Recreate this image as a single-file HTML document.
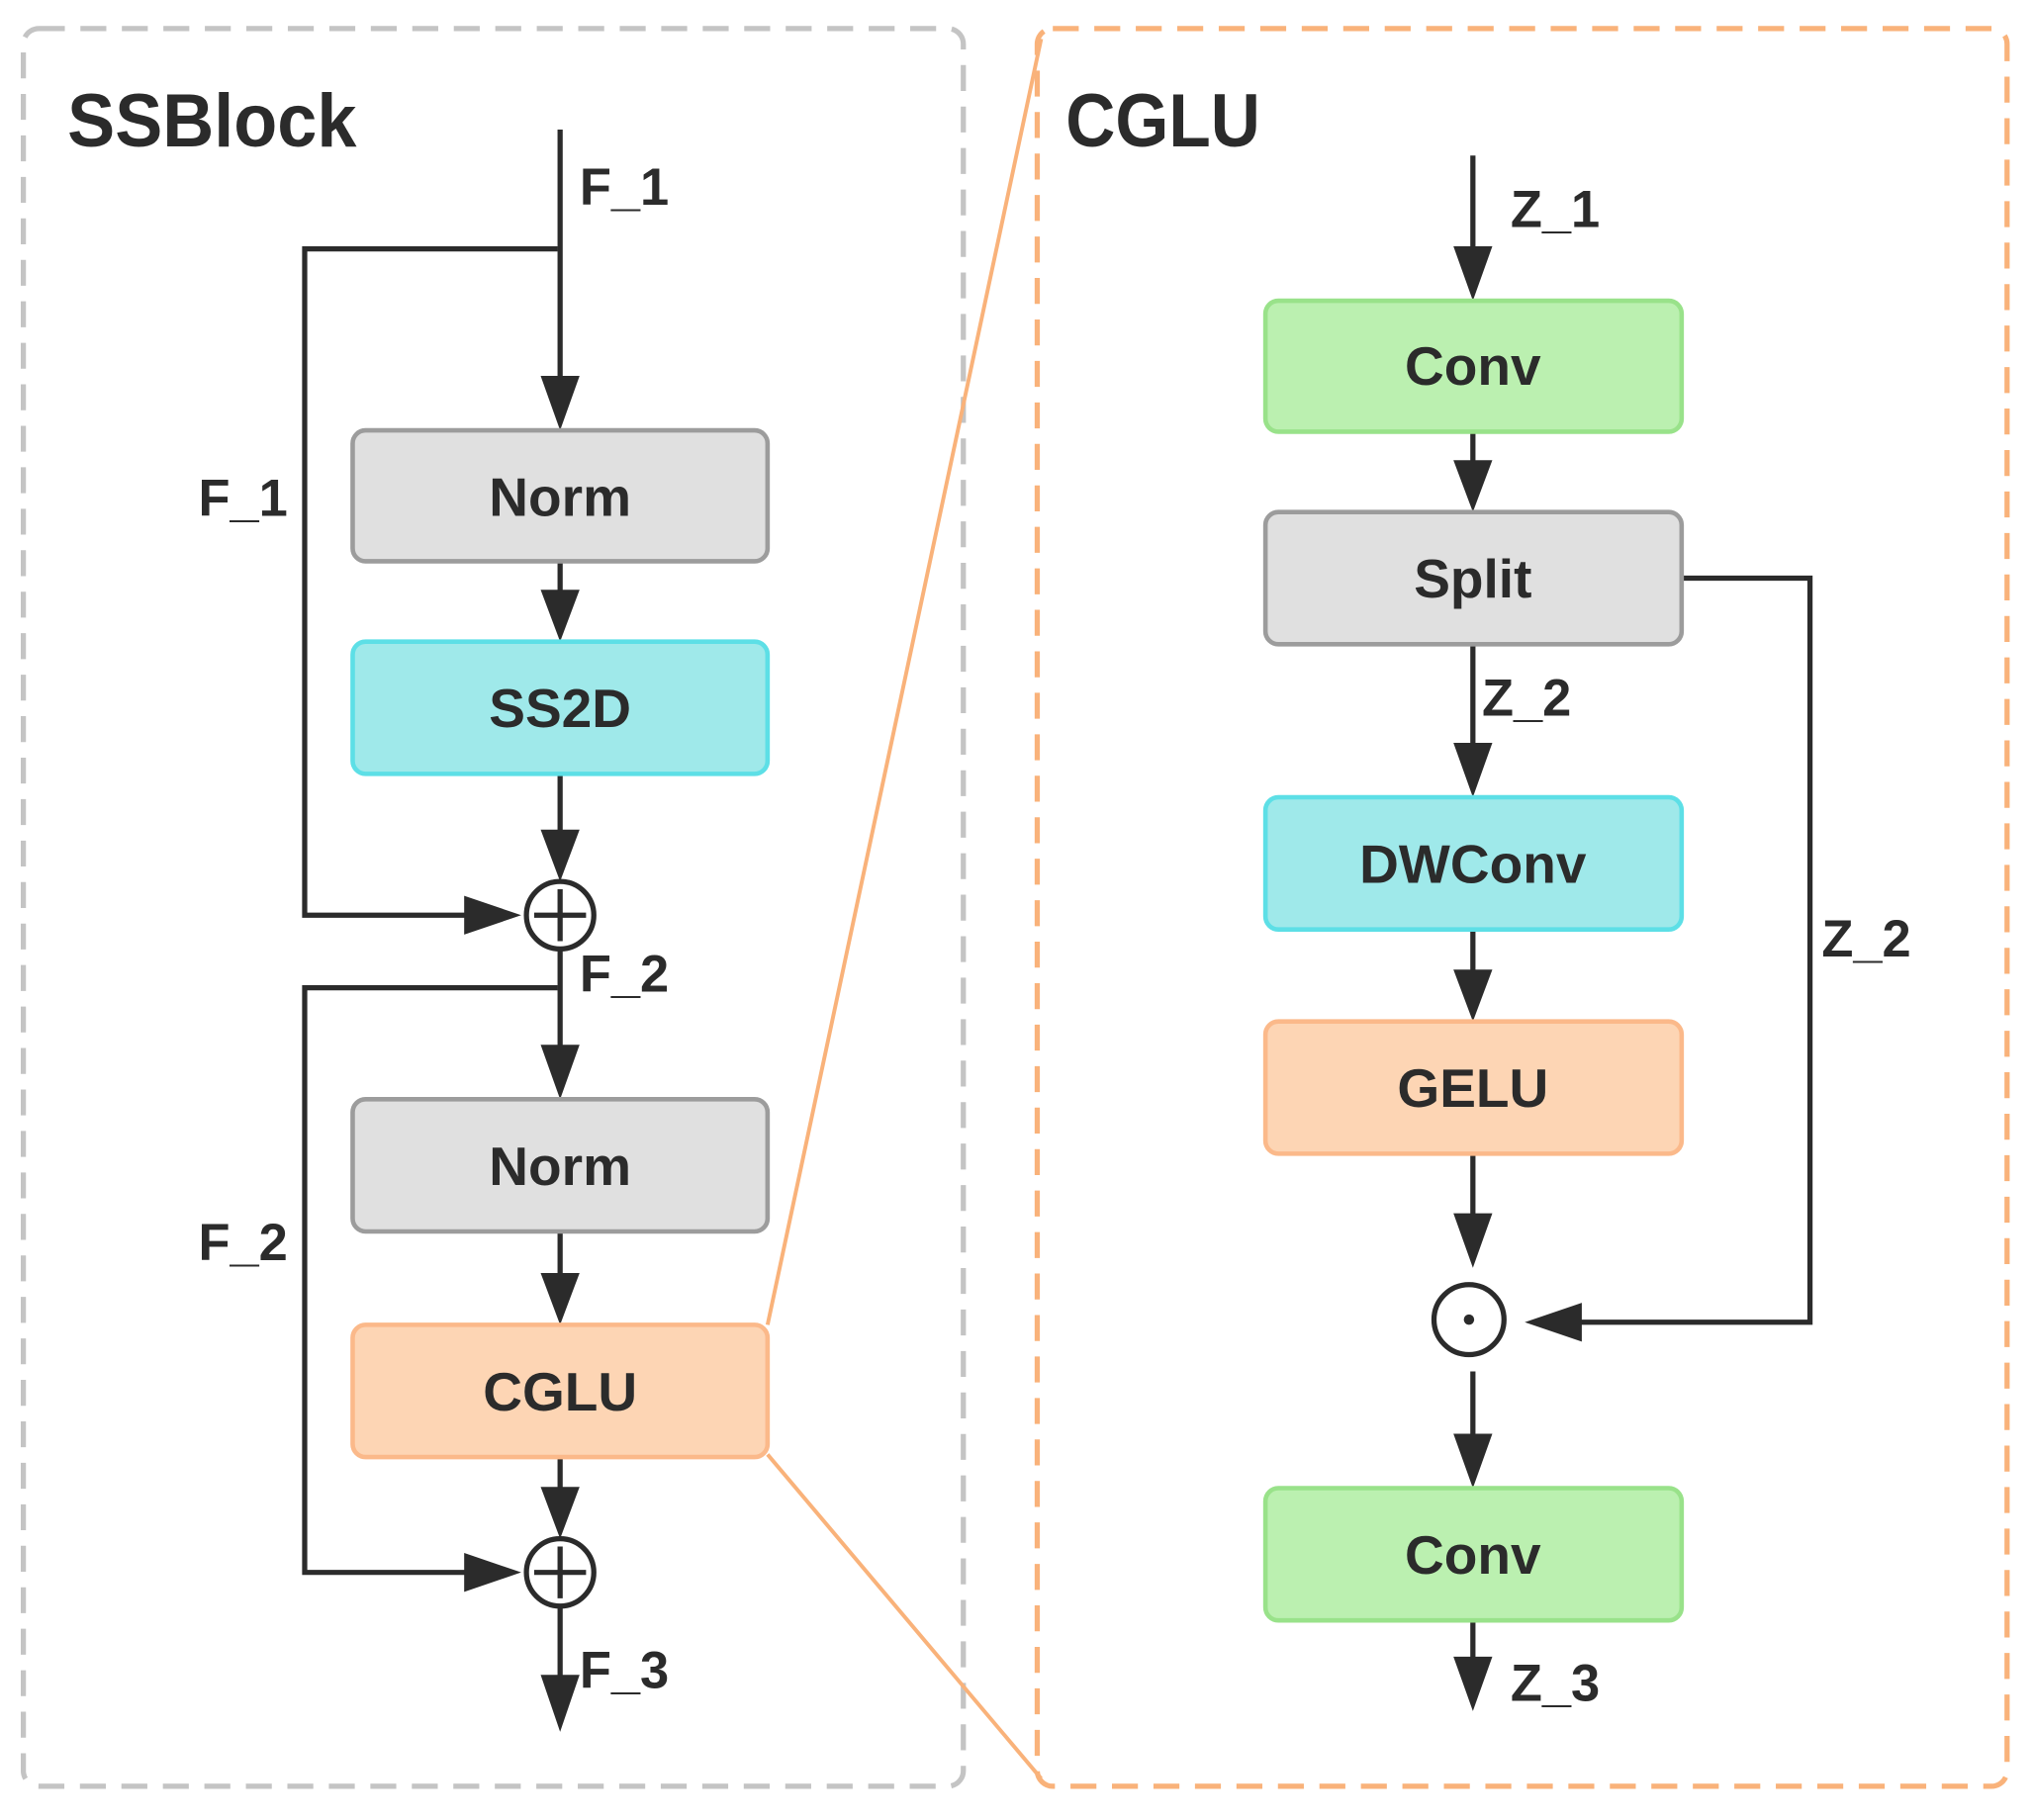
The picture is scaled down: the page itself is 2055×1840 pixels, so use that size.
<!DOCTYPE html>
<html><head><meta charset="utf-8"><style>
html,body{margin:0;padding:0;background:#fff}
svg{display:block}
text{font-family:"Liberation Sans",sans-serif;font-weight:bold;fill:#2b2b2b}
</style></head><body>
<svg width="2055" height="1840" viewBox="0 0 1568 1404" preserveAspectRatio="none" xmlns="http://www.w3.org/2000/svg">
<rect x="18" y="22" width="725" height="1356" rx="12" fill="none" stroke="#c4c4c4" stroke-width="4" stroke-dasharray="20 12"/>
<rect x="800" y="22" width="748" height="1356" rx="12" fill="none" stroke="#f9b27a" stroke-width="4" stroke-dasharray="20 12"/>
<line x1="592" y1="1022" x2="803" y2="30" stroke="#f9b27a" stroke-width="3"/>
<line x1="592" y1="1122" x2="803" y2="1372" stroke="#f9b27a" stroke-width="3"/>
<text x="52" y="113" font-size="58" textLength="223" lengthAdjust="spacingAndGlyphs">SSBlock</text>
<text x="822" y="113" font-size="58" textLength="150" lengthAdjust="spacingAndGlyphs">CGLU</text>
<g stroke="#2b2b2b" stroke-width="4" fill="none">
<path d="M432 100V300"/><path d="M430 192H235V706H370"/>
<path d="M432 433V465"/><path d="M432 597V650"/>
<path d="M432 732V815"/><path d="M430 762H235V1213H370"/>
<path d="M432 950V990"/><path d="M432 1124V1157"/><path d="M432 1239V1300"/>
<path d="M1136 120V200"/><path d="M1136 333V362"/><path d="M1136 497V582"/>
<path d="M1136 717V756"/><path d="M1136 890V945"/><path d="M1136 1058V1115"/><path d="M1136 1250V1288"/>
<path d="M1297 446H1396V1020H1210"/>
<circle cx="432" cy="706" r="26"/><path d="M412 706H452M432 686V726"/>
<circle cx="432" cy="1213" r="26"/><path d="M412 1213H452M432 1193V1233"/>
<circle cx="1133" cy="1018" r="27"/>
</g>
<circle cx="1133" cy="1018" r="4" fill="#2b2b2b"/>
<g fill="#2b2b2b">
<path d="M417 290H447L432 332Z"/><path d="M417 455H447L432 495Z"/><path d="M417 640H447L432 680Z"/>
<path d="M417 806H447L432 848Z"/><path d="M417 982H447L432 1022Z"/><path d="M417 1147H447L432 1187Z"/>
<path d="M417 1292H447L432 1336Z"/>
<path d="M358 691V721L402 706Z"/><path d="M358 1198V1228L402 1213Z"/>
<path d="M1121 190H1151L1136 232Z"/><path d="M1121 355H1151L1136 395Z"/><path d="M1121 573H1151L1136 615Z"/>
<path d="M1121 748H1151L1136 788Z"/><path d="M1121 936H1151L1136 978Z"/><path d="M1121 1106H1151L1136 1148Z"/>
<path d="M1121 1278H1151L1136 1320Z"/>
<path d="M1220 1005V1035L1176 1020Z"/>
</g>
<g stroke-width="3.5">
<rect x="272" y="332" width="320" height="101" rx="10" fill="#e0e0e0" stroke="#9c9c9c"/>
<rect x="272" y="495" width="320" height="102" rx="10" fill="#9fe9ea" stroke="#5ddfe6"/>
<rect x="272" y="848" width="320" height="102" rx="10" fill="#e0e0e0" stroke="#9c9c9c"/>
<rect x="272" y="1022" width="320" height="102" rx="10" fill="#fdd5b4" stroke="#fbb98a"/>
<rect x="976" y="232" width="321" height="101" rx="10" fill="#bbf0b0" stroke="#99e28a"/>
<rect x="976" y="395" width="321" height="102" rx="10" fill="#e0e0e0" stroke="#9c9c9c"/>
<rect x="976" y="615" width="321" height="102" rx="10" fill="#9fe9ea" stroke="#5ddfe6"/>
<rect x="976" y="788" width="321" height="102" rx="10" fill="#fdd5b4" stroke="#fbb98a"/>
<rect x="976" y="1148" width="321" height="102" rx="10" fill="#bbf0b0" stroke="#99e28a"/>
</g>
<g font-size="42" text-anchor="middle">
<text x="432" y="398">Norm</text><text x="432" y="561">SS2D</text>
<text x="432" y="914">Norm</text><text x="432" y="1088">CGLU</text>
<text x="1136" y="297">Conv</text><text x="1136" y="461">Split</text>
<text x="1136" y="681">DWConv</text><text x="1136" y="854">GELU</text>
<text x="1136" y="1214">Conv</text>
</g>
<g font-size="40">
<text x="447" y="158">F_1</text><text x="153" y="398">F_1</text>
<text x="447" y="765">F_2</text><text x="153" y="972">F_2</text>
<text x="447" y="1302">F_3</text>
<text x="1165" y="175">Z_1</text><text x="1143" y="552">Z_2</text>
<text x="1405" y="738">Z_2</text><text x="1165" y="1312">Z_3</text>
</g>
</svg>
</body></html>
